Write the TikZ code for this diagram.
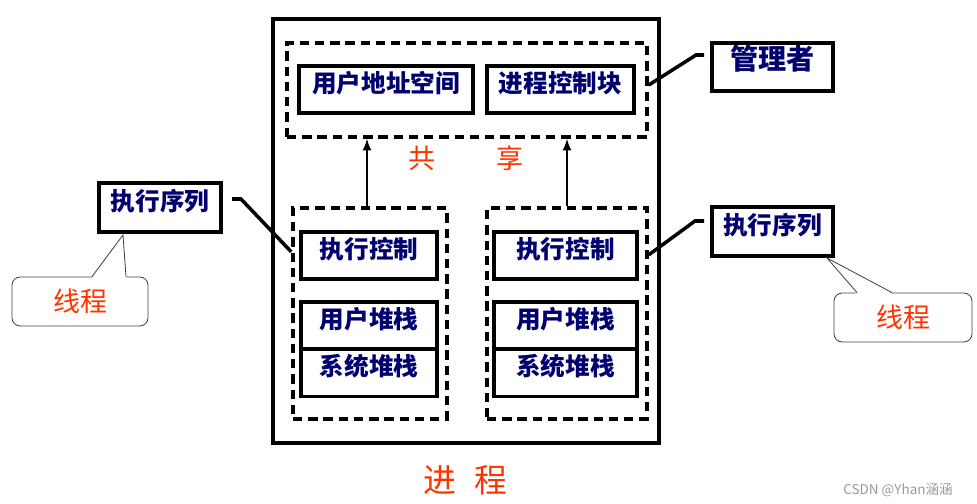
\documentclass[tikz,border=0pt]{standalone}
\usepackage{fontspec}
\newfontfamily\cjk{Noto Sans CJK SC}
\usetikzlibrary{arrows}
\definecolor{labelnavy}{RGB}{0,0,110}
\definecolor{labelred}{RGB}{255,51,0}
\tikzset{
  box/.style={draw, line width=3pt, minimum height=1.41cm, inner sep=0pt,
    text height=0.88em, text depth=0.4em,
    text=labelnavy, font=\cjk\bfseries\fontsize{21}{24}\selectfont},
  dashbox/.style={draw, line width=3pt, dash pattern=on 8pt off 5pt, inner sep=0pt},
  link/.style={line width=3pt},
  callout/.style={draw=black!75, rounded corners=7pt, line width=0.7pt, minimum height=1.47cm,
    inner sep=0pt, text=labelred, font=\cjk\fontsize{23}{26}\selectfont},
  redlabel/.style={text=labelred, inner sep=0pt}
}
\begin{document}
\begin{tikzpicture}[x=0.03cm,y=-0.03cm]
  \useasboundingbox (0,0) rectangle (977,504);

  % process and its parts
  \node[draw, line width=3.2pt, minimum width=11.58cm, minimum height=12.72cm] (proc) at (466,231) {};
  \node[dashbox, minimum width=10.8cm, minimum height=2.82cm] (share) at (467,90) {};
  \node[dashbox, minimum width=4.62cm, minimum height=6.33cm] (thrL) at (370,313.5) {};
  \node[dashbox, minimum width=4.8cm, minimum height=6.33cm] (thrR) at (567,313.5) {};

  \node[box, minimum width=5.22cm] (uas) at (386,89.5) {用户地址空间};
  \node[box, minimum width=4.41cm] (pcb) at (560.5,89.5) {进程控制块};

  \node[box, minimum width=4.08cm] (ctrlL) at (369,255.5) {执行控制};
  \node[box, minimum width=4.08cm] (ustkL) at (369,325.5) {用户堆栈};
  \node[box, minimum width=4.08cm] (sstkL) at (369,373) {系统堆栈};

  \node[box, minimum width=4.29cm] (ctrlR) at (565.5,255.5) {执行控制};
  \node[box, minimum width=4.29cm] (ustkR) at (565.5,325.5) {用户堆栈};
  \node[box, minimum width=4.29cm] (sstkR) at (565.5,373) {系统堆栈};

  \draw[-latex, line width=2.4pt] ([xshift=-0.09cm]thrL.north) -- ([xshift=-0.09cm]thrL.north |- share.south);
  \draw[-latex, line width=2.4pt] (thrR.north) -- (thrR.north |- share.south);

  \node[redlabel, font=\cjk\fontsize{23}{26}\selectfont] (sharelbl) at (466,158) {共\hspace{2.3em}享};
  \node[redlabel, font=\cjk\fontsize{28}{32}\selectfont] (proclbl) at (465,480) {进\hspace{0.55em}程};

  % labels outside
  \node[box, minimum width=3.66cm, minimum height=1.47cm] (seqL) at (160,207.5) {执行序列};
  \node[box, minimum width=3.63cm, minimum height=1.44cm, font=\cjk\bfseries\fontsize{24}{27}\selectfont] (mgr) at (772.5,67) {管理者};
  \node[box, minimum width=3.63cm, minimum height=1.47cm] (seqR) at (772.5,231.5) {执行序列};

  \coordinate (seqLa) at (232,199);
  \coordinate (seqLb) at (241,199);
  \draw[link] (seqLa) -- (seqLb) -- ([yshift=1.85cm]thrL.west);
  \coordinate (mgra) at (696,55);
  \coordinate (mgrb) at (704,55);
  \draw[link] ([yshift=0.15cm]share.east) -- (mgra) -- (mgrb);
  \coordinate (seqRa) at (695,221);
  \coordinate (seqRb) at (704,221);
  \draw[link] ([yshift=1.76cm]thrR.east) -- (seqRa) -- (seqRb);

  % thread callouts
  \node[callout, minimum width=4.08cm] (thL) at (80,301.5) {线程};
  \coordinate (thLtip) at (123,235);
  \fill[white] ([xshift=0.36cm,yshift=-1pt]thL.north) -- (thLtip) -- ([xshift=1.38cm,yshift=-1pt]thL.north) -- cycle;
  \draw[black!75, line width=0.7pt] ([xshift=0.36cm]thL.north) -- (thLtip) -- ([xshift=1.38cm]thL.north);

  \node[callout, minimum width=4.14cm] (thR) at (903,317.5) {线程};
  \coordinate (thRtip) at (827,258);
  \fill[white] ([xshift=-1.38cm,yshift=-1pt]thR.north) -- (thRtip) -- ([xshift=-0.33cm,yshift=-1pt]thR.north) -- cycle;
  \draw[black!75, line width=0.7pt] ([xshift=-1.38cm]thR.north) -- (thRtip) -- ([xshift=-0.33cm]thR.north);

  \node[text=black!40, font=\cjk\fontsize{11.5}{13}\selectfont, inner sep=0pt] (mark) at (898,490) {CSDN @Yhan涵涵};
\end{tikzpicture}
\end{document}
